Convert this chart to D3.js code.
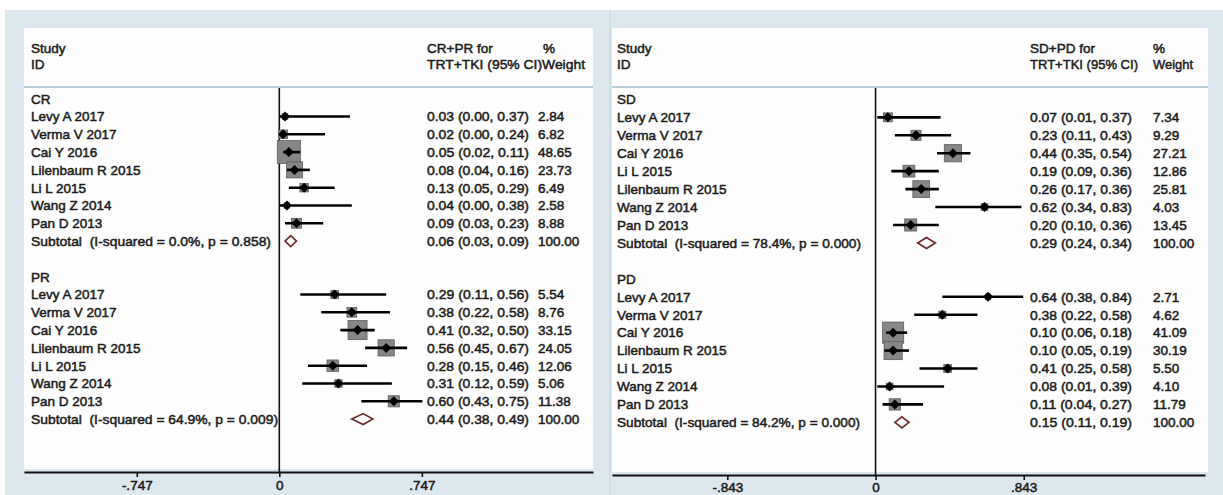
<!DOCTYPE html>
<html>
<head>
<meta charset="utf-8">
<script src="https://cdn.jsdelivr.net/npm/d3@7/dist/d3.min.js"></script>
<style>
  html, body { margin: 0; padding: 0; background: #ffffff; }
  svg { display: block; }
  text { font-family: "Liberation Sans", Arial, Helvetica, sans-serif; fill: #1b1b1b; white-space: pre; }
</style>
</head>
<body>
<svg id="chart" width="1223" height="495"></svg>
<script>
// ---------------- DATA ----------------
const studiesCR = ["Levy A 2017", "Verma V 2017", "Cai Y 2016", "Lilenbaum R 2015", "Li L 2015", "Wang Z 2014", "Pan D 2013"];
const estCR = [0.03, 0.02, 0.05, 0.08, 0.13, 0.04, 0.09];
const loCR  = [0.00, 0.00, 0.02, 0.04, 0.05, 0.00, 0.03];
const hiCR  = [0.37, 0.24, 0.11, 0.16, 0.29, 0.38, 0.23];
const wCR   = [2.84, 6.82, 48.65, 23.73, 6.49, 2.58, 8.88];
const poolCR = [0.06, 0.03, 0.09];
const hetCR = "Subtotal  (I-squared = 0.0%, p = 0.858)";

const studiesPR = ["Levy A 2017", "Verma V 2017", "Cai Y 2016", "Lilenbaum R 2015", "Li L 2015", "Wang Z 2014", "Pan D 2013"];
const estPR = [0.29, 0.38, 0.41, 0.56, 0.28, 0.31, 0.60];
const loPR  = [0.11, 0.22, 0.32, 0.45, 0.15, 0.12, 0.43];
const hiPR  = [0.56, 0.58, 0.50, 0.67, 0.46, 0.59, 0.75];
const wPR   = [5.54, 8.76, 33.15, 24.05, 12.06, 5.06, 11.38];
const poolPR = [0.44, 0.38, 0.49];
const hetPR = "Subtotal  (I-squared = 64.9%, p = 0.009)";

const studiesSD = ["Levy A 2017", "Verma V 2017", "Cai Y 2016", "Li L 2015", "Lilenbaum R 2015", "Wang Z 2014", "Pan D 2013"];
const estSD = [0.07, 0.23, 0.44, 0.19, 0.26, 0.62, 0.20];
const loSD  = [0.01, 0.11, 0.35, 0.09, 0.17, 0.34, 0.10];
const hiSD  = [0.37, 0.43, 0.54, 0.36, 0.36, 0.83, 0.36];
const wSD   = [7.34, 9.29, 27.21, 12.86, 25.81, 4.03, 13.45];
const poolSD = [0.29, 0.24, 0.34];
const hetSD = "Subtotal  (I-squared = 78.4%, p = 0.000)";

const studiesPD = ["Levy A 2017", "Verma V 2017", "Cai Y 2016", "Lilenbaum R 2015", "Li L 2015", "Wang Z 2014", "Pan D 2013"];
const estPD = [0.64, 0.38, 0.10, 0.10, 0.41, 0.08, 0.11];
const loPD  = [0.38, 0.22, 0.06, 0.05, 0.25, 0.01, 0.04];
const hiPD  = [0.84, 0.58, 0.18, 0.19, 0.58, 0.39, 0.27];
const wPD   = [2.71, 4.62, 41.09, 30.19, 5.50, 4.10, 11.79];
const poolPD = [0.15, 0.11, 0.19];
const hetPD = "Subtotal  (I-squared = 84.2%, p = 0.000)";

const tickValsL = [-0.747, 0, 0.747];
const tickLabelsL = ["-.747", "0", ".747"];
const tickValsR = [-0.843, 0, 0.843];
const tickLabelsR = ["-.843", "0", ".843"];

const headL = ["CR+PR for", "TRT+TKI (95% CI)Weight", "%"];
const headR = ["SD+PD for", "TRT+TKI (95% CI)", "%", "Weight"];

// ---------------- DRAW ----------------
const svg = d3.select("#chart");
const FS = 13.5;

// background frame
svg.append("rect").attr("x", 5).attr("y", 10).attr("width", 1218).attr("height", 485).attr("fill", "#dce8ee");

function fmt(v) { return v.toFixed(2); }
function ciText(e, l, h) { return fmt(e) + " (" + fmt(l) + ", " + fmt(h) + ")"; }

function makeGroup(label, studies, est, lo, hi, w, pool, het) {
  return { label, het, pool, rows: studies.map((s, i) => ({ s, e: est[i], l: lo[i], h: hi[i], w: w[i] })) };
}

function drawPanel(cfg) {
  const g = svg.append("g");
  const x = d3.scaleLinear().domain(cfg.domain).range([cfg.left, cfg.right]);
  const y = d3.scaleLinear().domain([0, 18]).range(cfg.rowRange);

  // white panel
  g.append("rect").attr("x", cfg.left).attr("y", 28).attr("width", cfg.right - cfg.left + cfg.padR)
    .attr("height", cfg.axisY - 3 - 28).attr("fill", "#fefefe");
  // header separator
  g.append("line").attr("x1", cfg.left).attr("x2", cfg.right + cfg.padR).attr("y1", 87).attr("y2", 87)
    .attr("stroke", "#9fbcc8").attr("stroke-width", 1.6);

  const txt = (t, tx, ty, opts = {}) => {
    const el = g.append("text").attr("x", tx).attr("y", ty).attr("font-size", FS)
      .attr("stroke", "#1b1b1b").attr("stroke-width", 0.5).text(t);
    if (opts.len) el.attr("textLength", opts.len).attr("lengthAdjust", "spacingAndGlyphs");
    if (opts.dy) el.attr("dy", opts.dy);
    return el;
  };

  // headers
  txt("Study", cfg.labelX, 53);
  txt("ID", cfg.labelX, 69);
  cfg.headers.forEach(h => txt(h.t, h.x, h.y, { len: h.len }));

  // zero line
  g.append("line").attr("x1", x(0)).attr("x2", x(0)).attr("y1", 88).attr("y2", cfg.axisY)
    .attr("stroke", "#111").attr("stroke-width", 1.6);

  const boxK = 3.3;
  cfg.groups.forEach((grp, gi) => {
    const base = gi * 10;
    txt(grp.label, cfg.labelX, y(base), { dy: "0.36em" });
    grp.rows.forEach((r, i) => {
      const yy = y(base + 1 + i);
      txt(r.s, cfg.labelX, yy, { dy: "0.36em" });
      txt(ciText(r.e, r.l, r.h), cfg.ciX, yy, { dy: "0.36em", len: cfg.ciLen });
      txt(r.w.toFixed(2), cfg.wX, yy, { dy: "0.36em" });
      const side = boxK * Math.sqrt(r.w);
      g.append("rect").attr("x", x(r.e) - side / 2).attr("y", yy - side / 2)
        .attr("width", side).attr("height", side)
        .attr("fill", "#878787").attr("stroke", "#5c5c5c").attr("stroke-width", 0.8);
    });
    grp.rows.forEach((r, i) => {
      const yy = y(base + 1 + i);
      g.append("line").attr("x1", x(r.l)).attr("x2", x(r.h)).attr("y1", yy).attr("y2", yy)
        .attr("stroke", "#000").attr("stroke-width", 2.6);
      const cx = x(r.e), d = 5;
      g.append("path").attr("d", `M${cx - d},${yy}L${cx},${yy - d}L${cx + d},${yy}L${cx},${yy + d}Z`)
        .attr("fill", "#000");
    });
    // pooled
    const yp = y(base + 8);
    txt(grp.het, cfg.labelX, yp, { dy: "0.36em", len: cfg.hetLen[gi] });
    txt(ciText(grp.pool[0], grp.pool[1], grp.pool[2]), cfg.ciX, yp, { dy: "0.36em", len: cfg.ciLen });
    txt("100.00", cfg.wX, yp, { dy: "0.36em" });
    const [pe, pl, ph] = grp.pool.map(x);
    g.append("path").attr("d", `M${pl},${yp}L${pe},${yp - 5.5}L${ph},${yp}L${pe},${yp + 5.5}Z`)
      .attr("fill", "#fff").attr("stroke", "#6e2a2a").attr("stroke-width", 1.7);
  });

  // axis
  const axis = d3.axisBottom(x).tickValues(cfg.tickVals).tickFormat((d, i) => cfg.tickLabels[i])
    .tickSize(5).tickSizeOuter(0).tickPadding(cfg.tickPad);
  const ag = g.append("g").attr("transform", `translate(0,${cfg.axisY})`).call(axis);
  ag.select(".domain").attr("stroke", "#111").attr("stroke-width", 1.8);
  ag.selectAll(".tick line").attr("stroke", "#111").attr("stroke-width", 1.6);
  ag.selectAll(".tick text").attr("font-size", FS).attr("fill", "#1b1b1b")
    .attr("stroke", "#1b1b1b").attr("stroke-width", 0.5)
    .attr("font-family", "'Liberation Sans', Arial, sans-serif");
}

drawPanel({
  left: 24, right: 593, padR: 0, domain: [-1.338, 1.644], rowRange: [98.7, 419.1],
  labelX: 31, ciX: 427, wX: 538, ciLen: 102, axisY: 472, tickPad: 3,
  tickVals: tickValsL, tickLabels: tickLabelsL, hetLen: [240, 247],
  headers: [
    { t: headL[0], x: 427, y: 53 },
    { t: headL[1], x: 427, y: 69, len: 158 },
    { t: headL[2], x: 543, y: 53 }
  ],
  groups: [
    makeGroup("CR", studiesCR, estCR, loCR, hiCR, wCR, poolCR, hetCR),
    makeGroup("PR", studiesPR, estPR, loPR, hiPR, wPR, poolPR, hetPR)
  ]
});

// faint divider between panels
svg.append("line").attr("x1", 610).attr("x2", 610).attr("y1", 10).attr("y2", 495)
  .attr("stroke", "#c9dbe2").attr("stroke-width", 1.2);

drawPanel({
  left: 612, right: 1205, padR: 3, domain: [-1.499, 1.874], rowRange: [99.4, 404.4 + 17.94],
  labelX: 617, ciX: 1030, wX: 1153, ciLen: 102, axisY: 475, tickPad: 2,
  tickVals: tickValsR, tickLabels: tickLabelsR, hetLen: [244, 243],
  headers: [
    { t: headR[0], x: 1030, y: 53 },
    { t: headR[1], x: 1030, y: 69, len: 108 },
    { t: headR[2], x: 1153, y: 53 },
    { t: headR[3], x: 1153, y: 69, len: 40 }
  ],
  groups: [
    makeGroup("SD", studiesSD, estSD, loSD, hiSD, wSD, poolSD, hetSD),
    makeGroup("PD", studiesPD, estPD, loPD, hiPD, wPD, poolPD, hetPD)
  ]
});
</script>
</body>
</html>
